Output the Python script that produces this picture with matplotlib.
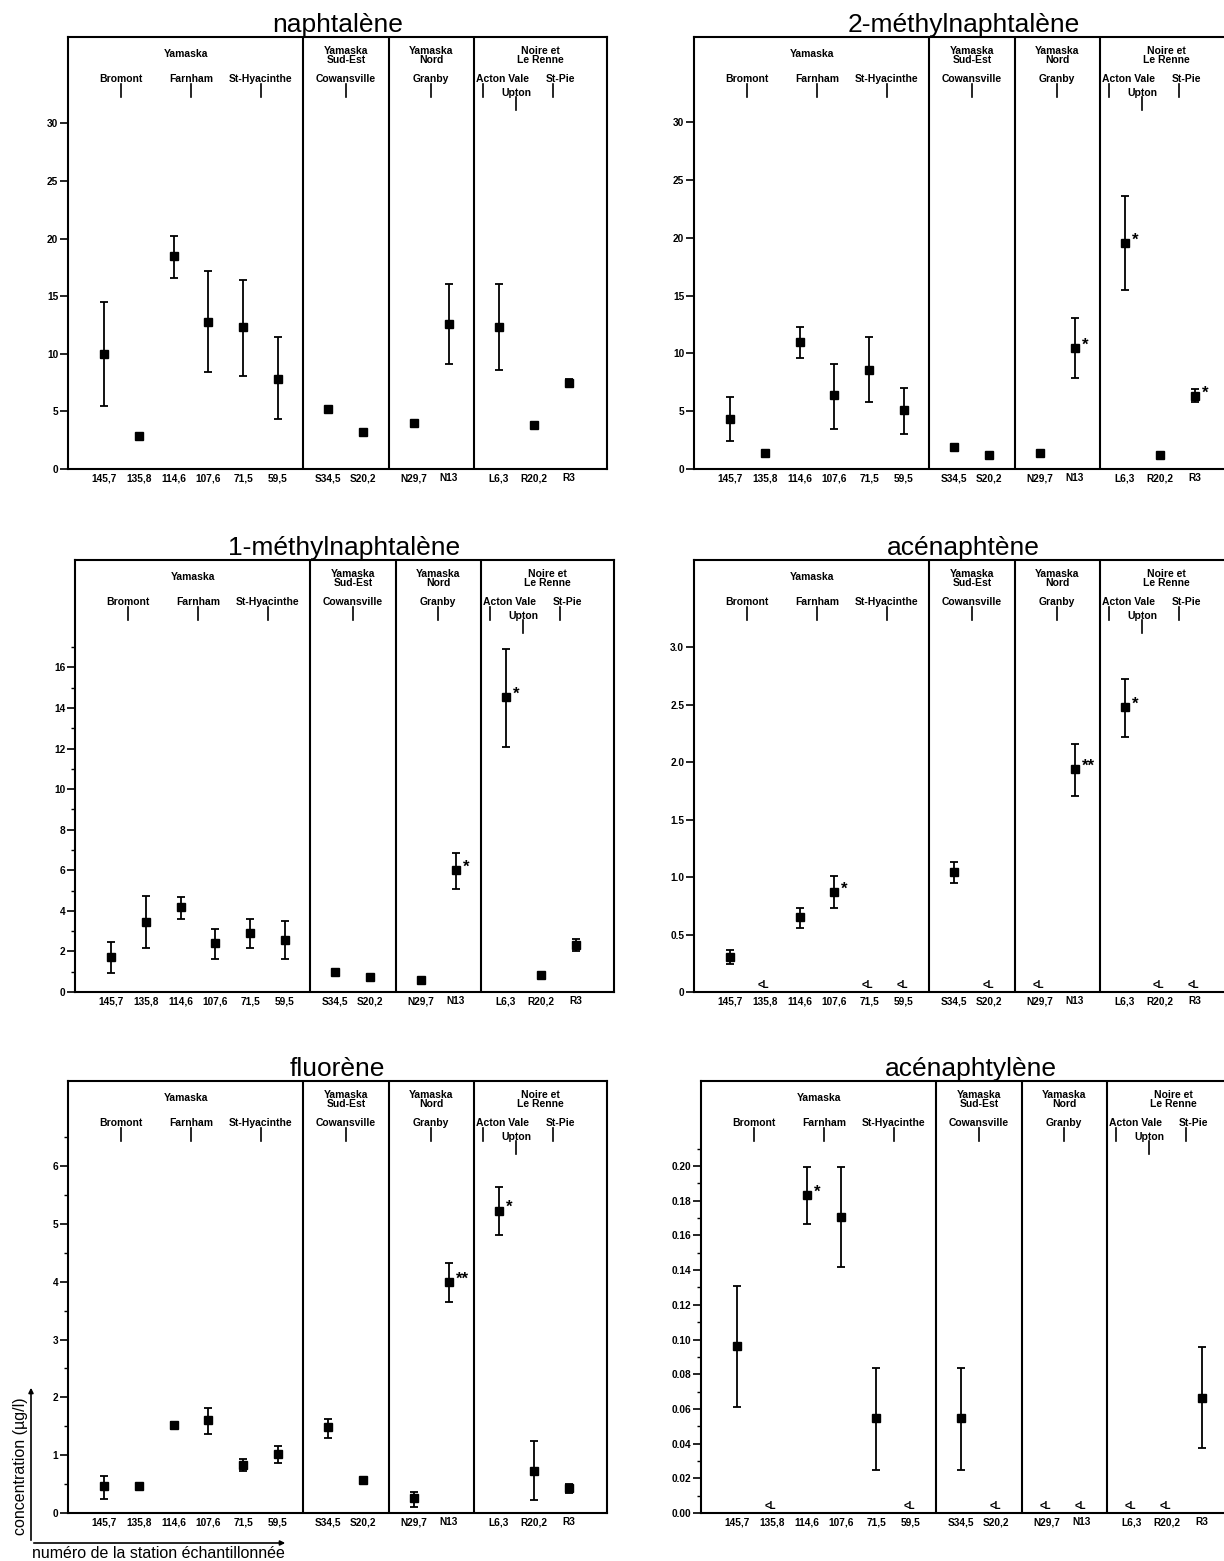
import numpy as np
import matplotlib
matplotlib.use("Agg")
import matplotlib.pyplot as plt
from matplotlib.ticker import FixedLocator
from matplotlib.patches import FancyArrowPatch

nan = np.nan

# ---- stations and river groups -------------------------------------------
stations = ["145,7", "135,8", "114,6", "107,6", "71,5", "59,5",
            "S34,5", "S20,2", "N29,7", "N13", "L6,3", "R20,2", "R3"]
group_sizes = [6, 2, 2, 3]
group_names = ["Yamaska", "Yamaska\nSud-Est", "Yamaska\nNord", "Noire et\nLe Renne"]
cities = ["Bromont", "Farnham", "St-Hyacinthe", "Cowansville", "Granby",
          "Acton Vale", "Upton", "St-Pie"]

# ---- concentrations (µg/l): mean, lower and upper bound of interval ----------
naph_mean = [10.0, 2.9, 18.5, 12.8, 12.3, 7.85, 5.2, 3.2, 4.0, 12.6, 12.3, 3.8, 7.5]
naph_lo = [5.5, nan, 16.6, 8.4, 8.1, 4.3, nan, nan, nan, 9.1, 8.6, nan, 7.2]
naph_hi = [14.5, nan, 20.2, 17.2, 16.4, 11.5, nan, nan, nan, 16.1, 16.1, nan, 7.8]
naph_sig = ["", "", "", "", "", "", "", "", "", "", "", "", ""]

mn2_mean = [4.35, 1.4, 11.0, 6.4, 8.6, 5.1, 1.9, 1.25, 1.35, 10.5, 19.6, 1.25, 6.3]
mn2_lo = [2.4, nan, 9.6, 3.5, 5.8, 3.0, nan, nan, nan, 7.9, 15.5, nan, 5.8]
mn2_hi = [6.2, nan, 12.3, 9.1, 11.4, 7.0, nan, nan, nan, 13.1, 23.6, nan, 6.9]
mn2_sig = ["", "", "", "", "", "", "", "", "", "*", "*", "", "*"]

mn1_mean = [1.75, 3.46, 4.17, 2.4, 2.9, 2.55, 1.0, 0.76, 0.6, 6.0, 14.55, 0.84, 2.32]
mn1_lo = [0.95, 2.15, 3.6, 1.65, 2.15, 1.65, nan, nan, nan, 5.07, 12.1, nan, 2.0]
mn1_hi = [2.45, 4.75, 4.66, 3.1, 3.62, 3.5, nan, nan, nan, 6.87, 16.9, nan, 2.6]
mn1_sig = ["", "", "", "", "", "", "", "", "", "*", "*", "", ""]

ace_mean = [0.305, nan, 0.654, 0.872, nan, nan, 1.047, nan, nan, 1.94, 2.48, nan, nan]
ace_lo = [0.247, nan, 0.56, 0.733, nan, nan, 0.95, nan, nan, 1.71, 2.22, nan, nan]
ace_hi = [0.363, nan, 0.735, 1.01, nan, nan, 1.134, nan, nan, 2.16, 2.72, nan, nan]
ace_sig = ["", "", "", "*", "", "", "", "", "", "**", "*", "", ""]

flu_mean = [0.46, 0.46, 1.52, 1.61, 0.83, 1.02, 1.48, 0.57, 0.26, 3.99, 5.23, 0.73, 0.43]
flu_lo = [0.24, 0.43, 1.46, 1.37, 0.72, 0.87, 1.29, 0.54, 0.11, 3.65, 4.8, 0.23, 0.34]
flu_hi = [0.64, 0.49, 1.58, 1.82, 0.94, 1.16, 1.63, 0.60, 0.37, 4.33, 5.64, 1.25, 0.50]
flu_sig = ["", "", "", "", "", "", "", "", "", "**", "*", "", ""]

acy_mean = [0.0963, nan, 0.1834, 0.1707, 0.0545, nan, 0.0545, nan, nan, nan, nan, nan, 0.066]
acy_lo = [0.0609, nan, 0.1665, 0.1418, 0.0249, nan, 0.0249, nan, nan, nan, nan, nan, 0.0373]
acy_hi = [0.131, nan, 0.1996, 0.1996, 0.0833, nan, 0.0833, nan, nan, nan, nan, nan, 0.0957]
acy_sig = ["", "", "*", "", "", "", "", "", "", "", "", "", ""]

# y-axis ticks for each compound
naph_ticks = [0, 5, 10, 15, 20, 25, 30]
naph_ticklabels = ["0", "5", "10", "15", "20", "25", "30"]
mn1_ticks = [0, 2, 4, 6, 8, 10, 12, 14, 16]
mn1_ticklabels = ["0", "2", "4", "6", "8", "10", "12", "14", "16"]
ace_ticks = [0, 0.5, 1.0, 1.5, 2.0, 2.5, 3.0]
ace_ticklabels = ["0", "0.5", "1.0", "1.5", "2.0", "2.5", "3.0"]
flu_ticks = [0, 1, 2, 3, 4, 5, 6]
flu_ticklabels = ["0", "1", "2", "3", "4", "5", "6"]
acy_ticks = [0, 0.02, 0.04, 0.06, 0.08, 0.10, 0.12, 0.14, 0.16, 0.18, 0.20]
acy_ticklabels = ["0.00", "0.02", "0.04", "0.06", "0.08", "0.10", "0.12",
                  "0.14", "0.16", "0.18", "0.20"]

panels = [
    dict(title="naphtalène", mean=naph_mean, lo=naph_lo, hi=naph_hi, sig=naph_sig,
         ymax=37.5, ticks=naph_ticks, labels=naph_ticklabels, minor=None),
    dict(title="2-méthylnaphtalène", mean=mn2_mean, lo=mn2_lo, hi=mn2_hi, sig=mn2_sig,
         ymax=37.4, ticks=naph_ticks, labels=naph_ticklabels, minor=None),
    dict(title="1-méthylnaphtalène", mean=mn1_mean, lo=mn1_lo, hi=mn1_hi, sig=mn1_sig,
         ymax=21.3, ticks=mn1_ticks, labels=mn1_ticklabels, minor=(1, 17)),
    dict(title="acénaphtène", mean=ace_mean, lo=ace_lo, hi=ace_hi, sig=ace_sig,
         ymax=3.76, ticks=ace_ticks, labels=ace_ticklabels, minor=None),
    dict(title="fluorène", mean=flu_mean, lo=flu_lo, hi=flu_hi, sig=flu_sig,
         ymax=7.47, ticks=flu_ticks, labels=flu_ticklabels, minor=(0.5, 6.5)),
    dict(title="acénaphtylène", mean=acy_mean, lo=acy_lo, hi=acy_hi, sig=acy_sig,
         ymax=0.249, ticks=acy_ticks, labels=acy_ticklabels, minor=(0.01, 0.21)),
]

# ---- figure layout (pixels) -----------------------------------------------
W, H = 1224, 1561
fig = plt.figure(figsize=(W / 100, H / 100), dpi=100)
plt.rcParams["font.family"] = ["Liberation Sans", "DejaVu Sans"]

ax_w = 539
ax_h = 432
lefts = [68, 694, 75, 694, 68, 701]
tops = [37, 37, 560, 560, 1081, 1081]

# station x positions: unit spacing with an extra gap between river groups
group_id = np.repeat(np.arange(len(group_sizes)), group_sizes)
xs = np.arange(len(stations)) + 0.45 * group_id
bounds = np.cumsum(group_sizes)[:-1]
seps = [(xs[b - 1] + xs[b]) / 2 for b in bounds]
xmin, xmax = -1.03, 14.45
edges = [xmin] + seps + [xmax]

# city markers: (station index, offset in station spacings, text alignment, lowered)
city_anchor = [(0, 0.5, "center", False), (2, 0.5, "center", False),
               (4, 0.5, "center", False), (6, 0.5, "center", False),
               (8, 0.5, "center", False), (10, -0.45, "left", False),
               (10, 0.5, "center", True), (12, -0.45, "left", False)]

hdr_kw = dict(fontsize=7.5, fontweight="bold", color="black")


def yfrac(px):
    return 1 - px / ax_h


for k, p in enumerate(panels):
    ax = fig.add_axes([lefts[k] / W, 1 - (tops[k] + ax_h) / H, ax_w / W, ax_h / H])
    ax.set_xlim(xmin, xmax)
    ax.set_ylim(0, p["ymax"])
    for s in ax.spines.values():
        s.set_linewidth(1.5)

    mean = np.array(p["mean"], float)
    lo = np.array(p["lo"], float)
    hi = np.array(p["hi"], float)

    has_err = ~np.isnan(lo)
    ax.errorbar(xs[has_err], mean[has_err],
                yerr=[mean[has_err] - lo[has_err], hi[has_err] - mean[has_err]],
                fmt="none", ecolor="black", elinewidth=1.3, capsize=2.6,
                capthick=1.3, clip_on=False, zorder=3)
    ok = ~np.isnan(mean)
    ax.plot(xs[ok], mean[ok], "s", color="black", ms=6, zorder=4, clip_on=False)

    # values below the detection limit
    for x, m in zip(xs, mean):
        if np.isnan(m):
            ax.annotate("<L", (x, 0), xytext=(-1, 1.5), textcoords="offset points",
                        ha="center", va="bottom", fontsize=7, fontweight="bold")

    # significance marks
    for x, m, s in zip(xs, mean, p["sig"]):
        if s:
            ax.annotate(s, (x, m), xytext=(5, 2), textcoords="offset points",
                        ha="left", va="center", fontsize=12, fontweight="bold")

    # group separators
    for sx in seps:
        ax.axvline(sx, color="black", lw=1.5)

    # header: river group names
    trans = ax.get_xaxis_transform()
    for name, a, b in zip(group_names, edges[:-1], edges[1:]):
        y = yfrac(17) if "\n" not in name else yfrac(18.5)
        ax.text((a + b) / 2, y, name, ha="center", va="center", transform=trans,
                linespacing=0.95, **hdr_kw)

    # header: cities along the rivers
    for name, (si, off, ha, low) in zip(cities, city_anchor):
        cx = xs[si] + off
        if low:
            ax.text(cx, yfrac(56), name, ha="center", va="center", transform=trans, **hdr_kw)
            ax.plot([cx, cx], [yfrac(60), yfrac(73)], color="black", lw=1.2,
                    transform=trans)
        else:
            tx = cx - 0.2 if ha == "left" else cx
            ax.text(tx, yfrac(42), name, ha=ha, va="center", transform=trans, **hdr_kw)
            ax.plot([cx, cx], [yfrac(47), yfrac(60)], color="black", lw=1.2,
                    transform=trans)

    # axes ticks
    ax.set_xticks(xs)
    ax.set_xticklabels(stations, fontsize=7.3, fontweight="bold")
    ax.tick_params(axis="x", length=0, pad=3)
    ax.yaxis.set_major_locator(FixedLocator(p["ticks"]))
    ax.set_yticklabels(p["labels"], fontsize=7.3, fontweight="bold")
    ax.tick_params(axis="y", direction="out", length=6, width=1.2, pad=1)
    if p["minor"] is not None:
        step, top = p["minor"]
        ax.yaxis.set_minor_locator(FixedLocator(np.arange(step, top + step / 2, step)))
        ax.tick_params(axis="y", which="minor", direction="out", length=3, width=1.0)

    ax.set_title(p["title"], fontsize=19, pad=1)


# sketch of the axis meaning, bottom left
def fx(px):
    return px / W


def fy(py):
    return 1 - py / H


fig.add_artist(FancyArrowPatch((fx(31), fy(1543)), (fx(31), fy(1385)),
                               transform=fig.transFigure, arrowstyle="-|>",
                               mutation_scale=7, lw=1.2, color="black"))
fig.add_artist(FancyArrowPatch((fx(31), fy(1543)), (fx(288), fy(1543)),
                               transform=fig.transFigure, arrowstyle="-|>",
                               mutation_scale=7, lw=1.2, color="black"))
fig.text(fx(21), fy(1466), "concentration (µg/l)", rotation=90, ha="center",
         va="center", fontsize=11.5)
fig.text(fx(32), fy(1553), "numéro de la station échantillonnée", ha="left",
         va="center", fontsize=11.5)

fig.savefig("out.png", dpi=100)
